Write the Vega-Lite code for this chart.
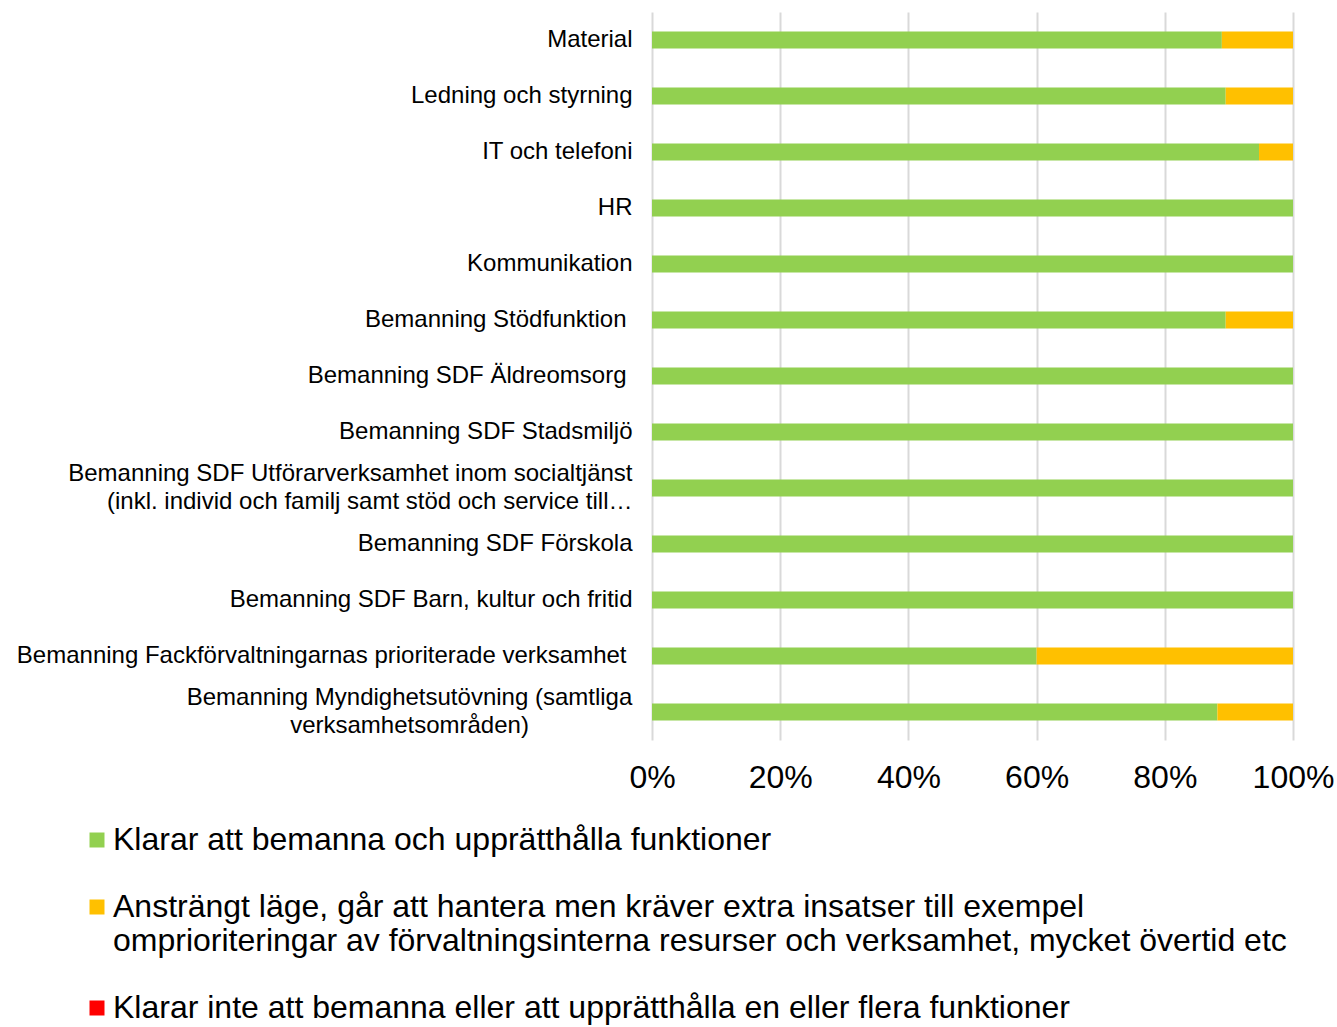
{
  "$schema": "https://vega.github.io/schema/vega-lite/v6.json",
  "autosize": {"type": "none"},
  "padding": {"left": 652, "top": 12, "right": 44, "bottom": 287},
  "width": 641,
  "height": 728,
  "background": "white",
  "config": {
    "font": "Liberation Sans",
    "view": {"stroke": null}
  },
  "data": {
    "values": [
      {"kategori": "Material", "status": "Klarar att bemanna och upprätthålla funktioner", "andel": 88.9},
      {"kategori": "Material", "status": "Ansträngt läge, går att hantera men kräver extra insatser till exempel omprioriteringar av förvaltningsinterna resurser och verksamhet, mycket övertid etc", "andel": 11.1},
      {"kategori": "Ledning och styrning", "status": "Klarar att bemanna och upprätthålla funktioner", "andel": 89.5},
      {"kategori": "Ledning och styrning", "status": "Ansträngt läge, går att hantera men kräver extra insatser till exempel omprioriteringar av förvaltningsinterna resurser och verksamhet, mycket övertid etc", "andel": 10.5},
      {"kategori": "IT och telefoni", "status": "Klarar att bemanna och upprätthålla funktioner", "andel": 94.7},
      {"kategori": "IT och telefoni", "status": "Ansträngt läge, går att hantera men kräver extra insatser till exempel omprioriteringar av förvaltningsinterna resurser och verksamhet, mycket övertid etc", "andel": 5.3},
      {"kategori": "HR", "status": "Klarar att bemanna och upprätthålla funktioner", "andel": 100},
      {"kategori": "Kommunikation", "status": "Klarar att bemanna och upprätthålla funktioner", "andel": 100},
      {"kategori": "Bemanning Stödfunktion ", "status": "Klarar att bemanna och upprätthålla funktioner", "andel": 89.5},
      {"kategori": "Bemanning Stödfunktion ", "status": "Ansträngt läge, går att hantera men kräver extra insatser till exempel omprioriteringar av förvaltningsinterna resurser och verksamhet, mycket övertid etc", "andel": 10.5},
      {"kategori": "Bemanning SDF Äldreomsorg ", "status": "Klarar att bemanna och upprätthålla funktioner", "andel": 100},
      {"kategori": "Bemanning SDF Stadsmiljö", "status": "Klarar att bemanna och upprätthålla funktioner", "andel": 100},
      {"kategori": "Bemanning SDF Utförarverksamhet inom socialtjänst (inkl. individ och familj samt stöd och service till…", "status": "Klarar att bemanna och upprätthålla funktioner", "andel": 100},
      {"kategori": "Bemanning SDF Förskola", "status": "Klarar att bemanna och upprätthålla funktioner", "andel": 100},
      {"kategori": "Bemanning SDF Barn, kultur och fritid", "status": "Klarar att bemanna och upprätthålla funktioner", "andel": 100},
      {"kategori": "Bemanning Fackförvaltningarnas prioriterade verksamhet ", "status": "Klarar att bemanna och upprätthålla funktioner", "andel": 60},
      {"kategori": "Bemanning Fackförvaltningarnas prioriterade verksamhet ", "status": "Ansträngt läge, går att hantera men kräver extra insatser till exempel omprioriteringar av förvaltningsinterna resurser och verksamhet, mycket övertid etc", "andel": 40},
      {"kategori": "Bemanning Myndighetsutövning (samtliga verksamhetsområden)", "status": "Klarar att bemanna och upprätthålla funktioner", "andel": 88.2},
      {"kategori": "Bemanning Myndighetsutövning (samtliga verksamhetsområden)", "status": "Ansträngt läge, går att hantera men kräver extra insatser till exempel omprioriteringar av förvaltningsinterna resurser och verksamhet, mycket övertid etc", "andel": 11.8}
    ]
  },
  "mark": {"type": "bar"},
  "encoding": {
    "y": {
      "field": "kategori",
      "type": "nominal",
      "sort": null,
      "scale": {"paddingInner": 0.7, "paddingOuter": 0.35},
      "axis": {
        "title": null,
        "domain": false,
        "ticks": false,
        "grid": false,
        "labelFontSize": 24,
        "labelColor": "#000000",
        "labelPadding": {
          "condition": [
            {"test": "datum.value == 'Bemanning Myndighetsutövning (samtliga verksamhetsområden)'", "value": 243},
            {"test": "datum.value == 'Bemanning Stödfunktion ' || datum.value == 'Bemanning SDF Äldreomsorg ' || datum.value == 'Bemanning Fackförvaltningarnas prioriterade verksamhet '", "value": 26}
          ],
          "value": 20
        },
        "labelAlign": {"condition": {"test": "datum.value == 'Bemanning Myndighetsutövning (samtliga verksamhetsområden)'", "value": "center"}, "value": "right"},
        "labelOffset": {"condition": {"test": "datum.value == 'Bemanning Myndighetsutövning (samtliga verksamhetsområden)' || datum.value == 'Bemanning SDF Utförarverksamhet inom socialtjänst (inkl. individ och familj samt stöd och service till…'", "value": -14}, "value": 0},
        "labelLimit": 0,
        "labelLineHeight": 28,
        "labelExpr": "split(replace(replace(datum.label, 'socialtjänst ', 'socialtjänst|'), '(samtliga ', '(samtliga|'), '|')"
      }
    },
    "x": {
      "field": "andel",
      "type": "quantitative",
      "stack": "normalize",
      "scale": {"domain": [0, 1]},
      "axis": {
        "title": null,
        "format": "%",
        "values": [0, 0.2, 0.4, 0.6, 0.8, 1],
        "domain": false,
        "ticks": false,
        "grid": true,
        "gridColor": "#d9d9d9",
        "gridWidth": 2,
        "labelFontSize": 32,
        "labelColor": "#000000",
        "labelPadding": 22,
        "labelFlush": false
      }
    },
    "color": {
      "field": "status",
      "type": "nominal",
      "scale": {
        "domain": [
          "Klarar att bemanna och upprätthålla funktioner",
          "Ansträngt läge, går att hantera men kräver extra insatser till exempel omprioriteringar av förvaltningsinterna resurser och verksamhet, mycket övertid etc",
          "Klarar inte att bemanna eller att upprätthålla en eller flera funktioner"
        ],
        "range": ["#92d050", "#ffc000", "#ff0000"]
      },
      "legend": {
        "title": null,
        "orient": "none",
        "legendX": -571,
        "legendY": 812,
        "direction": "vertical",
        "symbolType": "square",
        "symbolSize": 225,
        "symbolStrokeWidth": 0,
        "labelFontSize": 32,
        "labelColor": "#000000",
        "labelLimit": 0,
        "labelOffset": 0,
        "labelLineHeight": 37,
        "rowPadding": 35,
        "labelExpr": "split(replace(datum.label, 'exempel ', 'exempel|'), '|')"
      }
    },
    "order": {"field": "status", "sort": "descending"}
  }
}
